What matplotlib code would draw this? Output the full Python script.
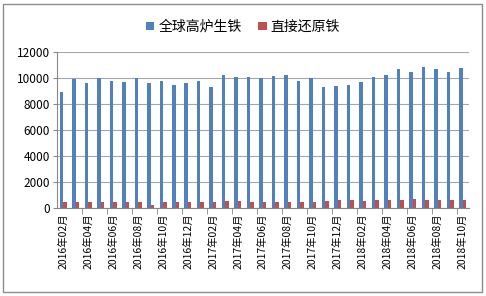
import matplotlib.pyplot as plt
import numpy as np
from matplotlib.patches import Rectangle

plt.rcParams['font.family'] = ['Noto Sans CJK SC', 'DejaVu Sans']

# monthly data, 2016-02 .. 2018-10
months = []
for y in (2016, 2017, 2018):
    for m in range(1, 13):
        if (y == 2016 and m < 2) or (y == 2018 and m > 10):
            continue
        months.append(f'{y}年{m:02d}月')

pig_iron = [8950, 9900, 9600, 10000, 9750, 9700, 10000, 9650, 9800, 9450,
            9600, 9750, 9350, 10200, 10050, 10080, 9980, 10170, 10250, 9770,
            9980, 9280, 9380, 9480, 9670, 10080, 10230, 10700, 10460, 10820,
            10670, 10460, 10750]
dri = [440, 450, 440, 450, 450, 440, 440, 230, 440, 450,
       470, 450, 460, 520, 520, 450, 450, 440, 430, 500,
       500, 550, 600, 600, 520, 640, 640, 640, 680, 660,
       660, 650, 660]

series_names = ['全球高炉生铁', '直接还原铁']
colors = ['#4F81BD', '#C0504D']

fig = plt.figure(figsize=(4.86, 2.96), dpi=100)
ax = fig.add_axes([0.117, 0.297, 0.848, 0.527])

x = np.arange(len(months))
w = 0.28
ax.bar(x - w / 2, pig_iron, width=w, color=colors[0], label=series_names[0])
ax.bar(x + w / 2, dri, width=w, color=colors[1], label=series_names[1])

ax.set_xlim(-0.5, len(months) - 0.5)
ax.set_ylim(0, 12000)
ax.set_yticks(range(0, 12001, 2000))
ax.tick_params(axis='y', labelsize=8.5, length=3, color='#888888', pad=2)
ax.grid(axis='y', color='#A6A6A6', linewidth=0.8)
ax.set_axisbelow(True)

ax.set_xticks(x[::2])
ax.set_xticklabels(months[::2], rotation=90, fontsize=7.5)
ax.set_xticks(np.arange(1.5, len(months), 2), minor=True)
ax.tick_params(axis='x', which='major', length=0, pad=4)
ax.tick_params(axis='x', which='minor', length=4, color='#888888')

for s in ('top', 'right'):
    ax.spines[s].set_visible(False)
for s in ('left', 'bottom'):
    ax.spines[s].set_color('#888888')

fig.legend(loc='upper center', bbox_to_anchor=(0.5, 0.975), ncol=2,
           frameon=False, fontsize=10, handlelength=0.6, handleheight=0.6,
           handletextpad=0.3, columnspacing=1.2)

fig.patches.append(Rectangle((0.006, 0.013), 0.985, 0.975, transform=fig.transFigure,
                             fill=False, edgecolor='#8C8C8C', linewidth=1))

fig.savefig('out.png', dpi=100)
